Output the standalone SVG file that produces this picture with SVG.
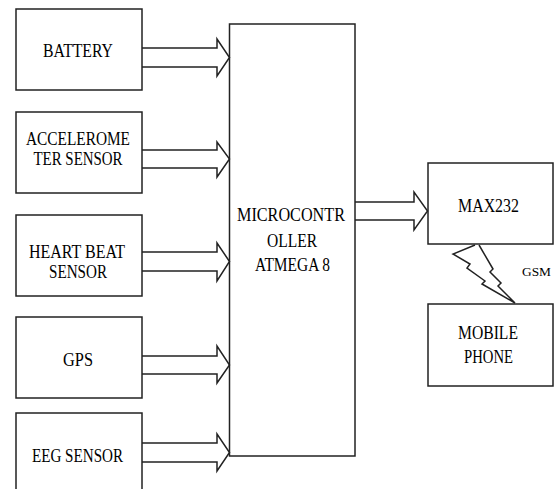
<svg xmlns="http://www.w3.org/2000/svg" width="555" height="489" viewBox="0 0 555 489">
<style>
rect.box{fill:#fff;stroke:#222;stroke-width:1.5}
.conn path{fill:none;stroke:#222;stroke-width:1.5;stroke-linejoin:miter}
text{font-family:'Liberation Serif','DejaVu Serif',serif;font-size:18px;fill:#000;text-anchor:middle}
text.small{font-size:13px}
</style>
<rect width="555" height="489" fill="#fff"/>
<g id="battery"><rect class="box" x="16" y="9" width="126" height="81"/><text x="78" y="57" textLength="70" lengthAdjust="spacingAndGlyphs">BATTERY</text></g>
<g id="accelerometer"><rect class="box" x="16" y="112" width="126" height="81"/><text x="78" y="145" textLength="104" lengthAdjust="spacingAndGlyphs">ACCELEROME</text><text x="78" y="165" textLength="89" lengthAdjust="spacingAndGlyphs">TER SENSOR</text></g>
<g id="heartbeat"><rect class="box" x="16" y="215" width="126" height="81"/><text x="77" y="258" textLength="96" lengthAdjust="spacingAndGlyphs">HEART BEAT</text><text x="78" y="278" textLength="58" lengthAdjust="spacingAndGlyphs">SENSOR</text></g>
<g id="gps"><rect class="box" x="16" y="317" width="126" height="81"/><text x="78" y="366" textLength="30" lengthAdjust="spacingAndGlyphs">GPS</text></g>
<g id="eeg"><rect class="box" x="16" y="413" width="126" height="90"/><text x="77.5" y="462" textLength="91" lengthAdjust="spacingAndGlyphs">EEG SENSOR</text></g>
<g id="mcu"><rect class="box" x="229.5" y="24" width="125.5" height="432"/><text x="291" y="221" textLength="108" lengthAdjust="spacingAndGlyphs">MICROCONTR</text><text x="292" y="247" textLength="50" lengthAdjust="spacingAndGlyphs">OLLER</text><text x="292.5" y="271" textLength="75" lengthAdjust="spacingAndGlyphs">ATMEGA 8</text></g>
<g id="max232"><rect class="box" x="428" y="163" width="125" height="81"/><text x="488.5" y="212" textLength="61" lengthAdjust="spacingAndGlyphs">MAX232</text></g>
<g id="mobile"><rect class="box" x="428" y="304" width="125" height="82"/><text x="488" y="339" textLength="60" lengthAdjust="spacingAndGlyphs">MOBILE</text><text x="488.5" y="363" textLength="49" lengthAdjust="spacingAndGlyphs">PHONE</text></g>
<g class="conn" id="connectors">
<path d="M142,48 H217 V39 L229.5,57.5 L217,76 V67 H142"/>
<path d="M142,150 H217 V142 L229.5,159 L217,177 V168 H142"/>
<path d="M142,252 H217 V243 L229.5,261.5 L217,281 V271 H142"/>
<path d="M142,356 H217 V346 L229.5,365 L217,383 V374 H142"/>
<path d="M142,443 H217 V434 L229.5,452.5 L217,471 V462 H142"/>
<path d="M355,202 H414 V192 L427.5,211 L414,230 V220 H355"/>
<path d="M475,245 L453,254 L470,264 L467,268 L485,281 L482,284 L515,303 L498,286 L501,283 L490,272 L493,269 L479,245" stroke-width="1.2"/>
</g>
<text class="small" x="536.5" y="276" textLength="29" lengthAdjust="spacingAndGlyphs">GSM</text>
</svg>
